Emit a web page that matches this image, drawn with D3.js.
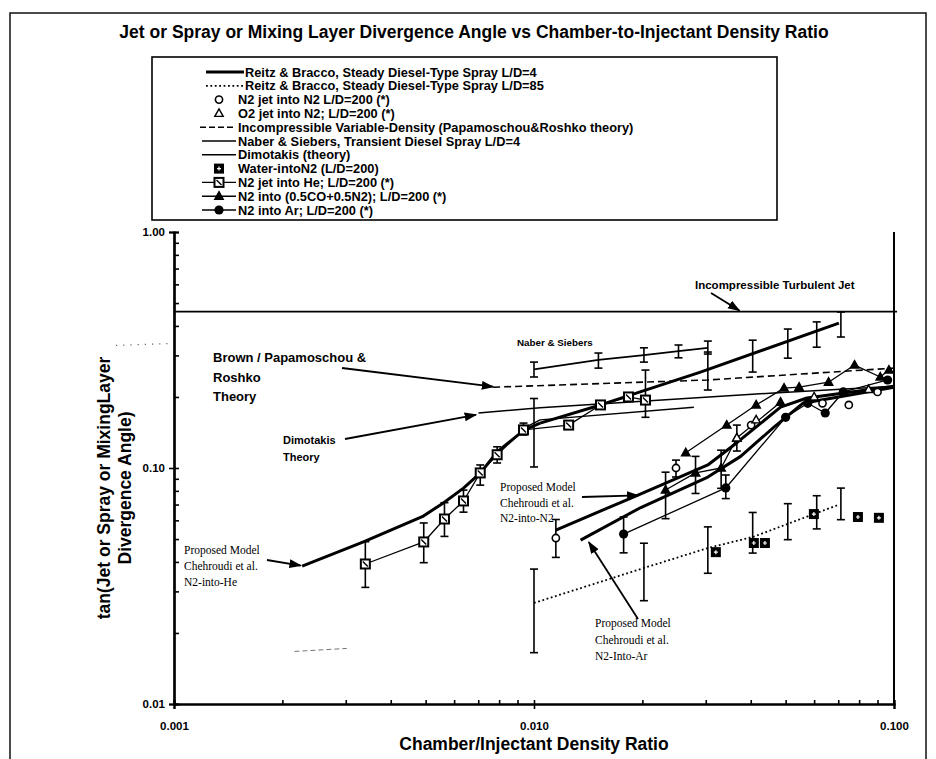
<!DOCTYPE html>
<html>
<head>
<meta charset="utf-8">
<script src="https://cdn.jsdelivr.net/npm/d3@7"></script>
<style>
  body { margin: 0; background: #fff; }
  svg { display: block; }
  .bold { font-family: "Liberation Sans", Arial, sans-serif; font-weight: bold; }
  .narrow { font-family: "Liberation Sans Narrow", "Arial Narrow", "Liberation Sans", sans-serif; font-weight: bold; }
  .serif { font-family: "Liberation Serif", "Times New Roman", serif; }
</style>
</head>
<body>
<div id="chart"></div>
<script>
// Divergence angle vs density ratio (log-log), redrawn from a scanned figure

// ---- data: [density ratio, tan(angle)] ----
const incompJet = [[0.001, 0.46], [0.102, 0.46]];
const reitz4Line = [[0.0104, 0.155], [0.0153, 0.185], [0.029, 0.255], [0.0703, 0.411]];
const reitzBarX = [0.0304, 0.0405, 0.0507, 0.061, 0.0712];
const reitz4Lo = [0.214, 0.255, 0.292, 0.325, 0.359];
const reitz4Hi = [0.31, 0.348, 0.388, 0.416, 0.458];
const reitz85Line = [[0.0100, 0.0268], [0.0202, 0.0377], [0.0304, 0.0458], [0.0408, 0.0512], [0.0699, 0.0697]];
const reitz85BarX = [0.0100, 0.0202, 0.0304, 0.0405, 0.0507, 0.061, 0.0712];
const reitz85Lo = [0.0165, 0.0274, 0.0358, 0.0436, 0.0497, 0.0552, 0.0604];
const reitz85Hi = [0.0373, 0.048, 0.0563, 0.0648, 0.0706, 0.0763, 0.0822];
const naberX = [0.0100, 0.0151, 0.0202, 0.0252, 0.0304];
const naberY = [0.262, 0.287, 0.301, 0.313, 0.323];
const naberLo = [0.243, 0.265, 0.281, 0.293, 0.304];
const naberHi = [0.281, 0.307, 0.323, 0.332, 0.345];
const papamoschou = [[0.0077, 0.220], [0.0304, 0.236], [0.1, 0.265]];
const dimotakis = [[0.00701, 0.171], [0.0104, 0.180], [0.0464, 0.208], [0.1, 0.222]];
const heFit = [[0.0094, 0.148], [0.0104, 0.160], [0.0278, 0.181]];
const heModel = [[0.00227, 0.0384], [0.00336, 0.0486], [0.00493, 0.0626], [0.0056, 0.0711],
  [0.00637, 0.0822], [0.0071, 0.0953], [0.0079, 0.117], [0.0094, 0.145], [0.0104, 0.155]];
const heX = [0.0034, 0.00494, 0.00564, 0.00637, 0.00709, 0.0079, 0.00935, 0.01248, 0.0153, 0.0183, 0.0204];
const heY = [0.0392, 0.0486, 0.0608, 0.0725, 0.0953, 0.1138, 0.145, 0.152, 0.185, 0.200, 0.194];
const heLo = [0.0312, 0.0397, 0.0513, 0.065, 0.0846, 0.105, 0.138, null, null, null, 0.164];
const heHi = [0.0487, 0.0585, 0.0713, 0.0806, 0.103, 0.123, 0.155, null, null, null, 0.26];
const looseBarX = [0.0100];
const looseLo = [0.101];
const looseHi = [0.197];
const waterX = [0.032, 0.0408, 0.0438, 0.0599, 0.0794, 0.0908];
const waterY = [0.044, 0.0481, 0.0481, 0.0638, 0.062, 0.0615];
const n2Model = [[0.0115, 0.0546], [0.0186, 0.0746], [0.0304, 0.103], [0.0366, 0.128],
  [0.0484, 0.181], [0.0573, 0.198], [0.1, 0.222]];
const arModel = [[0.01347, 0.0495], [0.0198, 0.068], [0.0304, 0.0915], [0.0375, 0.112],
  [0.0464, 0.149], [0.0558, 0.188], [0.1, 0.220]];
const n2X = [0.0115, 0.0248, 0.0401, 0.0633, 0.0749, 0.0900];
const n2Y = [0.0505, 0.100, 0.152, 0.188, 0.185, 0.210];
const n2Lo = [0.0418, 0.0916, null, null, null, null];
const n2Hi = [0.0605, 0.108, null, null, null, null];
const o2X = [0.0366, 0.0414, 0.060, 0.085];
const o2Y = [0.134, 0.160, 0.200, 0.215];
const coUpperX = [0.0264, 0.0343, 0.0414, 0.0495, 0.0545, 0.0658, 0.0777, 0.0916, 0.0968];
const coUpperY = [0.116, 0.152, 0.185, 0.218, 0.220, 0.231, 0.273, 0.243, 0.260];
const coLowerX = [0.0232, 0.0281, 0.0331, 0.0366, 0.0484];
const coLowerY = [0.0807, 0.0953, 0.100, 0.134, 0.190];
const coLowerLo = [0.061, 0.078, 0.082, 0.118, null];
const coLowerHi = [0.096, 0.112, 0.119, 0.152, null];
const arX = [0.01774, 0.0341, 0.050, 0.0576, 0.0644, 0.0723, 0.096];
const arY = [0.0525, 0.0823, 0.164, 0.188, 0.171, 0.210, 0.236];
const arLo = [0.0437, 0.0742, null, null, null, null, null];
const arHi = [0.062, 0.0934, null, null, null, null, null];
// faint scan artefacts
const strayDash = [[0.00216, 0.0167], [0.00302, 0.0172]];
const strayDots = [[0.00069, 0.331], [0.000997, 0.337]];

const xTicks = [0.001, 0.01, 0.1];
const yTicks = [0.01, 0.1, 1];

const legendItems = [
  { label: "Reitz & Bracco, Steady Diesel-Type Spray L/D=4", kind: "thick" },
  { label: "Reitz & Bracco, Steady Diesel-Type Spray L/D=85", kind: "dotted" },
  { label: "N2 jet into N2 L/D=200 (*)", kind: "circle" },
  { label: "O2 jet into N2; L/D=200 (*)", kind: "triangle" },
  { label: "Incompressible Variable-Density  (Papamoschou&Roshko theory)", kind: "dashed" },
  { label: "Naber & Siebers, Transient Diesel Spray L/D=4", kind: "line" },
  { label: "Dimotakis (theory)", kind: "line" },
  { label: "Water-intoN2 (L/D=200)", kind: "water" },
  { label: "N2 jet into He; L/D=200 (*)", kind: "heLine" },
  { label: "N2 into (0.5CO+0.5N2); L/D=200 (*)", kind: "coLine" },
  { label: "N2 into Ar; L/D=200 (*)", kind: "arLine" }
];

const W = 936, H = 759;
const svg = d3.select("#chart").append("svg").attr("width", W).attr("height", H);

// arrowhead marker
svg.append("defs").append("marker")
  .attr("id", "arrow").attr("viewBox", "0 0 10 10")
  .attr("refX", 9).attr("refY", 5)
  .attr("markerWidth", 7).attr("markerHeight", 7)
  .attr("orient", "auto")
  .append("path").attr("d", "M0,1.5 L10,5 L0,8.5 Z").attr("fill", "#000");

// outer frame of the scanned figure
svg.append("path")
  .attr("d", "M10,759 L10,13 L926,13 L926,759")
  .attr("fill", "none").attr("stroke", "#111").attr("stroke-width", 1.5);

// title
svg.append("text").attr("class", "bold")
  .attr("x", 474).attr("y", 38).attr("text-anchor", "middle")
  .style("font-size", "17.5px")
  .text("Jet or Spray or Mixing Layer Divergence Angle vs Chamber-to-Injectant Density Ratio");

// scales
const x = d3.scaleLog().domain([0.001, 0.1]).range([174, 894]);
const y = d3.scaleLog().domain([0.01, 1]).range([704, 232]);

// axes
const minorY = [];
[0.01, 0.1].forEach(b => { for (let k = 2; k <= 9; k++) minorY.push(b * k); });
const minorX = [];
[0.001, 0.01].forEach(b => { for (let k = 2; k <= 9; k++) minorX.push(b * k); });

const yAxis = svg.append("g").attr("transform", "translate(174,0)")
  .call(d3.axisLeft(y).tickValues(yTicks).tickSize(5).tickFormat(d3.format(".2f")));
svg.append("g").attr("transform", "translate(174,0)")
  .call(d3.axisRight(y).tickValues(minorY.concat(yTicks)).tickSize(5).tickFormat(""));
const xAxis = svg.append("g").attr("transform", "translate(0,704)")
  .call(d3.axisBottom(x).tickValues(xTicks).tickSize(5).tickFormat(d3.format(".3f")));
svg.append("g").attr("transform", "translate(0,704)")
  .call(d3.axisTop(x).tickValues(minorX.concat(xTicks)).tickSize(4).tickFormat(""));

svg.selectAll(".domain").attr("stroke", "#000").attr("stroke-width", 2.2);
svg.selectAll(".tick line").attr("stroke", "#000").attr("stroke-width", 1.6);
yAxis.selectAll("text").attr("class", "bold").style("font-size", "11.5px").attr("x", -9);
xAxis.selectAll("text").attr("class", "bold").style("font-size", "11.5px").attr("dy", "1.6em");

// right frame line of the plot
svg.append("line")
  .attr("x1", x(0.1)).attr("x2", x(0.1)).attr("y1", y(1)).attr("y2", y(0.01))
  .attr("stroke", "#000").attr("stroke-width", 2);

// axis titles
svg.append("text").attr("class", "bold")
  .attr("x", x(0.01)).attr("y", 750).attr("text-anchor", "middle")
  .style("font-size", "17.5px").text("Chamber/Injectant Density Ratio");
const yTitle = svg.append("text").attr("class", "bold")
  .attr("transform", "translate(110,488) rotate(-90)")
  .attr("text-anchor", "middle").style("font-size", "17.5px");
yTitle.append("tspan").attr("x", 0).attr("dy", 0).text("tan(Jet or Spray or MixingLayer");
yTitle.append("tspan").attr("x", 0).attr("dy", "1.2em").text("Divergence Angle)");

// helpers
const line = d3.line().x(d => x(d[0])).y(d => y(d[1]));
const zip = (xs, ys) => xs.map((v, i) => [v, ys[i]]);

function drawPath(pts, width, dash, color) {
  svg.append("path").datum(pts)
    .attr("fill", "none").attr("stroke", color || "#000")
    .attr("stroke-width", width)
    .attr("stroke-dasharray", dash || null)
    .attr("stroke-linejoin", "round")
    .attr("d", line);
}

function drawBars(xs, lo, hi) {
  const g = svg.append("g").attr("stroke", "#000").attr("stroke-width", 1.6);
  xs.forEach((v, i) => {
    if (lo[i] == null) return;
    const cx = x(v);
    g.append("line").attr("x1", cx).attr("x2", cx).attr("y1", y(lo[i])).attr("y2", y(hi[i]));
    g.append("line").attr("x1", cx - 4).attr("x2", cx + 4).attr("y1", y(lo[i])).attr("y2", y(lo[i]));
    g.append("line").attr("x1", cx - 4).attr("x2", cx + 4).attr("y1", y(hi[i])).attr("y2", y(hi[i]));
  });
}

function marker(g, kind, cx, cy) {
  if (kind === "circle") {
    g.append("circle").attr("cx", cx).attr("cy", cy).attr("r", 3.6)
      .attr("fill", "#fff").attr("stroke", "#000").attr("stroke-width", 1.6);
  } else if (kind === "triangle" || kind === "ftriangle") {
    g.append("path")
      .attr("d", `M${cx},${cy - 4.5} L${cx + 4.2},${cy + 3} L${cx - 4.2},${cy + 3} Z`)
      .attr("fill", kind === "ftriangle" ? "#000" : "#fff")
      .attr("stroke", "#000").attr("stroke-width", 1.4);
  } else if (kind === "fcircle") {
    g.append("circle").attr("cx", cx).attr("cy", cy).attr("r", 4.6).attr("fill", "#000");
  } else if (kind === "water") {
    g.append("rect").attr("x", cx - 5).attr("y", cy - 5).attr("width", 10).attr("height", 10).attr("fill", "#000");
    g.append("path").attr("d", `M${cx - 2},${cy} L${cx + 2},${cy} M${cx},${cy - 2} L${cx},${cy + 2}`)
      .attr("stroke", "#fff").attr("stroke-width", 1.2);
  } else if (kind === "square") {
    g.append("rect").attr("x", cx - 4.5).attr("y", cy - 4.5).attr("width", 9).attr("height", 9)
      .attr("fill", "#fff").attr("stroke", "#000").attr("stroke-width", 2);
    g.append("path").attr("d", `M${cx - 2.5},${cy - 2.5} L${cx + 2.5},${cy + 2.5}`)
      .attr("stroke", "#000").attr("stroke-width", 1.4);
  }
}

function drawMarkers(xs, ys, kind) {
  const g = svg.append("g");
  xs.forEach((v, i) => marker(g, kind, x(v), y(ys[i])));
}

// ---- reference lines ----
drawPath(incompJet, 1.8);
drawPath(papamoschou, 1.6, "7,4");
drawPath(dimotakis, 1.4);
drawPath(heFit, 1.4);
drawPath(strayDash, 1, "5,3", "#777");
drawPath(strayDots, 1.3, "1.2,6", "#666");

// ---- Naber & Siebers ----
drawPath(zip(naberX, naberY), 1.8);
drawBars(naberX, naberLo, naberHi);

// ---- Reitz & Bracco ----
drawPath(reitz4Line, 3);
drawBars(reitzBarX, reitz4Lo, reitz4Hi);
drawPath(reitz85Line, 1.8, "1.8,2.6");
drawBars(reitz85BarX, reitz85Lo, reitz85Hi);
drawBars(looseBarX, looseLo, looseHi);

// ---- proposed models ----
drawPath(heModel, 3);
drawPath(n2Model, 3);
drawPath(arModel, 3);

// ---- measured data ----
drawPath(zip(heX, heY), 1.3);
drawBars(heX, heLo, heHi);
drawMarkers(heX, heY, "square");

drawPath(zip(coUpperX, coUpperY), 1.3);
drawMarkers(coUpperX, coUpperY, "ftriangle");
drawPath(zip(coLowerX, coLowerY), 1.3);
drawBars(coLowerX, coLowerLo, coLowerHi);
drawMarkers(coLowerX, coLowerY, "ftriangle");

drawPath(zip(arX, arY), 1.3);
drawBars(arX, arLo, arHi);
drawMarkers(arX, arY, "fcircle");

drawBars(n2X, n2Lo, n2Hi);
drawMarkers(n2X, n2Y, "circle");
drawMarkers(o2X, o2Y, "triangle");
drawMarkers(waterX, waterY, "water");

// ---- annotations ----
function label(lines, px, py, cls, size, lh) {
  const t = svg.append("text").attr("class", cls).style("font-size", size + "px");
  lines.forEach((s, i) => t.append("tspan").attr("x", px).attr("y", py + i * lh).text(s));
}
function arrow(x1, y1, x2, y2) {
  svg.append("line").attr("x1", x1).attr("y1", y1).attr("x2", x2).attr("y2", y2)
    .attr("stroke", "#000").attr("stroke-width", 1.8).attr("marker-end", "url(#arrow)");
}

label(["Incompressible Turbulent Jet"], 695, 289, "bold", 11.5, 0);
arrow(711, 293, x(0.0372), y(0.465));
label(["Naber & Siebers"], 517, 346, "bold", 9.8, 0);
label(["Brown / Papamoschou &", "Roshko", "Theory"], 213, 362, "bold", 13, 19.5);
arrow(342, 368, x(0.0077), y(0.221));
label(["Dimotakis", "Theory"], 283, 444, "bold", 11, 17);
arrow(345, 439, x(0.0069), y(0.168));
label(["Proposed Model", "Chehroudi et al.", "N2-into-He"], 184, 554, "serif", 11.5, 16);
arrow(267, 560, x(0.00225), y(0.0386));
label(["Proposed Model", "Chehroudi et al.", "N2-into-N2"], 500, 491, "serif", 11.5, 15.5);
arrow(582, 497, x(0.0195), y(0.0765));
label(["Proposed Model", "Chehroudi et al.", "N2-Into-Ar"], 595, 627, "serif", 11.5, 16.5);
arrow(638, 619, x(0.0142), y(0.0485));

// ---- legend ----
const lg = svg.append("g");
lg.append("rect").attr("x", 152).attr("y", 57).attr("width", 625).attr("height", 163)
  .attr("fill", "#fff").attr("stroke", "#000").attr("stroke-width", 1.6);

legendItems.forEach((d, i) => {
  const cy = 72 + i * 13.8;
  const row = lg.append("g");
  const x0 = 202, x1 = 236, mid = 219;
  if (d.kind === "thick") {
    row.append("line").attr("x1", x0 + 4).attr("x2", x1 + 8).attr("y1", cy).attr("y2", cy)
      .attr("stroke", "#000").attr("stroke-width", 3);
  } else if (d.kind === "dotted") {
    row.append("line").attr("x1", x0 + 4).attr("x2", x1 + 8).attr("y1", cy).attr("y2", cy)
      .attr("stroke", "#000").attr("stroke-width", 1.8).attr("stroke-dasharray", "1.8,2.6");
  } else if (d.kind === "dashed") {
    row.append("line").attr("x1", x0 - 2).attr("x2", x1).attr("y1", cy).attr("y2", cy)
      .attr("stroke", "#000").attr("stroke-width", 1.6).attr("stroke-dasharray", "6,3");
  } else if (d.kind === "line") {
    row.append("line").attr("x1", x0).attr("x2", x1).attr("y1", cy).attr("y2", cy)
      .attr("stroke", "#000").attr("stroke-width", 1.6);
  } else if (d.kind === "circle" || d.kind === "triangle" || d.kind === "water") {
    marker(row, d.kind, mid, cy);
  } else {
    row.append("line").attr("x1", x0).attr("x2", x1).attr("y1", cy).attr("y2", cy)
      .attr("stroke", "#000").attr("stroke-width", 1.4);
    const kinds = { heLine: "square", coLine: "ftriangle", arLine: "fcircle" };
    marker(row, kinds[d.kind], mid, cy);
  }
  const tx = (d.kind === "thick" || d.kind === "dotted") ? 245 : 238;
  row.append("text").attr("class", "narrow")
    .attr("x", tx).attr("y", cy + 4.5).style("font-size", "12.8px").text(d.label);
});
</script>
</body>
</html>
